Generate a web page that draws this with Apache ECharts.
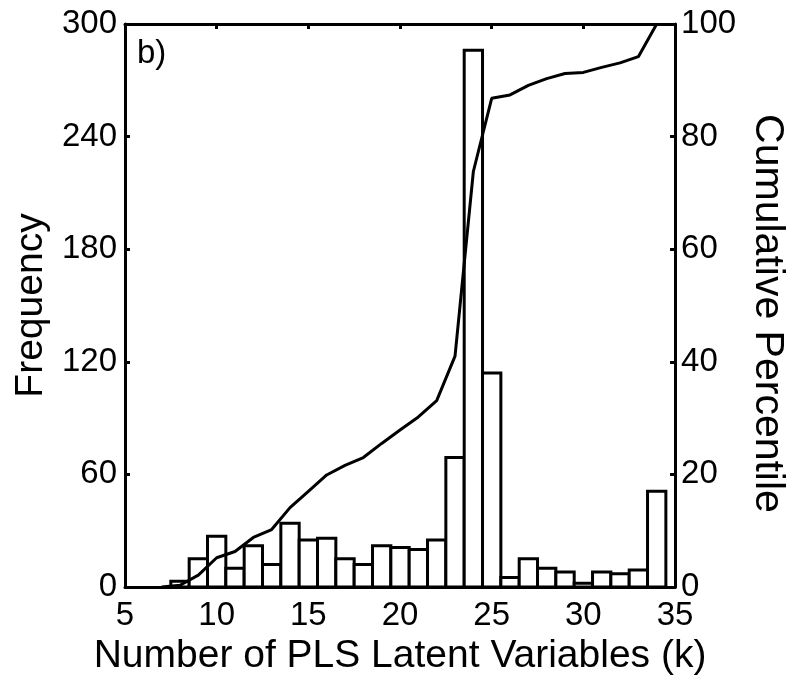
<!DOCTYPE html>
<html>
<head>
<meta charset="utf-8">
<script src="https://cdn.jsdelivr.net/npm/echarts@6/dist/echarts.min.js"></script>
<style>
  html, body { margin: 0; padding: 0; background: #fff; }
  #chart { width: 796px; height: 681px; }
</style>
</head>
<body>
<div id="chart"></div>
<script>
// histogram: number of PLS latent variables (k) vs frequency
var kValues = [8, 9, 10, 11, 12, 13, 14, 15, 16, 17, 18, 19, 20, 21, 22, 23, 24, 25, 26, 27, 28, 29, 30, 31, 32, 33, 34];
var frequency = [3, 15, 27, 10, 22, 12, 34, 25, 26, 15, 12, 22, 21, 20, 25, 69, 286, 114, 5, 15, 10, 8, 2, 8, 7, 9, 51];

// cumulative percentile curve
var cumK = [7, 8, 9, 10, 11, 12, 13, 14, 15, 16, 17, 18, 19, 20, 21, 22, 23, 24, 25, 26, 27, 28, 29, 30, 31, 32, 33, 34];
var cumPct = [0, 0.3, 2.1, 5.2, 6.3, 8.8, 10.2, 14.1, 17.0, 19.9, 21.6, 23.0, 25.5, 27.9, 30.2, 33.1, 41.0, 73.8, 86.8, 87.4, 89.1, 90.3, 91.2, 91.4, 92.3, 93.1, 94.2, 100];

var xTicks = [5, 10, 15, 20, 25, 30, 35];
var freqTicks = [0, 60, 120, 180, 240, 300];
var pctTicks = [0, 20, 40, 60, 80, 100];

var FONT = 'Liberation Sans, Arial, sans-serif';
var TICK_SIZE = 33;
var TITLE_SIZE = 39;

var chart = echarts.init(document.getElementById('chart'));

var barData = kValues.map(function (k, i) { return [k, frequency[i]]; });
var lineData = cumK.map(function (k, i) { return [k, cumPct[i]]; });

var axisLine = { show: true, onZero: false, lineStyle: { color: '#000', width: 3 } };
var axisTick = { show: true, inside: true, length: 5, lineStyle: { color: '#000', width: 3 } };

chart.setOption({
  animation: false,
  backgroundColor: '#fff',
  grid: { left: 125, right: 115, top: 24, bottom: 89 },
  graphic: [{
    type: 'text',
    left: 137,
    top: 37,
    style: { text: 'b)', font: '33px ' + FONT, fill: '#000' }
  }],
  xAxis: [{
    type: 'value',
    position: 'bottom',
    min: xTicks[0],
    max: xTicks[xTicks.length - 1],
    interval: 5,
    axisLine: axisLine,
    axisTick: axisTick,
    splitLine: { show: false },
    axisLabel: { color: '#000', fontSize: TICK_SIZE, fontFamily: FONT, margin: 12 },
    name: 'Number of PLS Latent Variables (k)',
    nameLocation: 'middle',
    nameGap: 50,
    nameTextStyle: { color: '#000', fontSize: TITLE_SIZE, fontFamily: FONT }
  }, {
    type: 'value',
    position: 'top',
    min: xTicks[0],
    max: xTicks[xTicks.length - 1],
    interval: 5,
    axisLine: axisLine,
    axisTick: axisTick,
    splitLine: { show: false },
    axisLabel: { show: false }
  }],
  yAxis: [{
    type: 'value',
    position: 'left',
    min: freqTicks[0],
    max: freqTicks[freqTicks.length - 1],
    interval: 60,
    axisLine: axisLine,
    axisTick: axisTick,
    splitLine: { show: false },
    axisLabel: { color: '#000', fontSize: TICK_SIZE, fontFamily: FONT, margin: 8 },
    name: 'Frequency',
    nameLocation: 'middle',
    nameGap: 74,
    nameTextStyle: { color: '#000', fontSize: TITLE_SIZE, fontFamily: FONT }
  }, {
    type: 'value',
    position: 'right',
    min: pctTicks[0],
    max: pctTicks[pctTicks.length - 1],
    interval: 20,
    axisLine: axisLine,
    axisTick: axisTick,
    splitLine: { show: false },
    axisLabel: { color: '#000', fontSize: TICK_SIZE, fontFamily: FONT, margin: 6 },
    name: 'Cumulative Percentile',
    nameLocation: 'middle',
    nameRotate: -90,
    nameGap: 69,
    nameTextStyle: { color: '#000', fontSize: 41, fontFamily: FONT, padding: [0, 0, 0, 16] }
  }],
  series: [{
    type: 'custom',
    xAxisIndex: 0,
    yAxisIndex: 0,
    data: barData,
    renderItem: function (params, api) {
      var k = api.value(0);
      var lo = api.coord([k - 0.5, 0]);
      var hi = api.coord([k + 0.5, api.value(1)]);
      return {
        type: 'rect',
        shape: { x: lo[0], y: hi[1], width: hi[0] - lo[0], height: lo[1] - hi[1] },
        style: { fill: '#fff', stroke: '#000', lineWidth: 3 }
      };
    },
    z: 2
  }, {
    type: 'line',
    xAxisIndex: 0,
    yAxisIndex: 1,
    data: lineData,
    showSymbol: false,
    lineStyle: { color: '#000', width: 3 },
    z: 3
  }]
});
</script>
</body>
</html>
